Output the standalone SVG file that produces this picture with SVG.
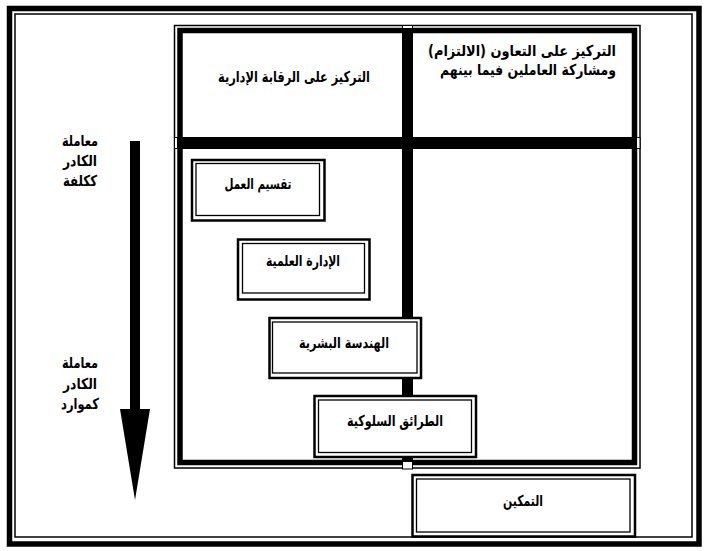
<svg xmlns="http://www.w3.org/2000/svg" width="709" height="551" viewBox="0 0 709 551">
<style>
.t{font-family:"DejaVu Sans","Liberation Sans",sans-serif;font-weight:bold;font-size:15px;fill:#000;text-anchor:middle;direction:rtl}
.thin{fill:none;stroke:#000;stroke-width:1.5}
.thick{fill:none;stroke:#000;stroke-width:5.5}
.bo{fill:#fff;stroke:#000;stroke-width:2.5}
.bi{fill:none;stroke:#000;stroke-width:1.3}
</style>
<rect width="709" height="551" fill="#fff"/>
<g id="outer-frame">
<rect class="thick" x="9.5" y="8.5" width="689.5" height="535.5"/>
<rect class="thin" x="15" y="14" width="677" height="523"/>
</g>
<g id="matrix-frame">
<rect class="thin" x="174.5" y="25.5" width="465.5" height="442.5"/>
<rect class="thick" x="180" y="30.5" width="454.5" height="432"/>
</g>
<g id="dividers">
<rect x="402.5" y="25.5" width="10" height="443.5" fill="#fff" stroke="#000" stroke-width="1"/>
<rect x="403" y="28" width="9" height="434" fill="#000"/>
<rect x="174.5" y="137.5" width="465.5" height="11" fill="#fff" stroke="#000" stroke-width="1"/>
<rect x="177" y="138" width="460" height="10" fill="#000"/>
</g>
<g id="arrow">
<rect x="130" y="141" width="10" height="269" fill="#000"/>
<polygon points="120,409 150,409 135,500" fill="#000"/>
</g>
<g id="label-cost">
<text class="t" x="80" y="146" textLength="36" lengthAdjust="spacingAndGlyphs">معاملة</text>
<text class="t" x="80" y="166" textLength="34" lengthAdjust="spacingAndGlyphs">الكادر</text>
<text class="t" x="80" y="186" textLength="34" lengthAdjust="spacingAndGlyphs">ككلفة</text>
</g>
<g id="label-resource">
<text class="t" x="80" y="368" textLength="36" lengthAdjust="spacingAndGlyphs">معاملة</text>
<text class="t" x="80" y="389" textLength="34" lengthAdjust="spacingAndGlyphs">الكادر</text>
<text class="t" x="80" y="409" textLength="38" lengthAdjust="spacingAndGlyphs">كموارد</text>
</g>
<g id="header-control">
<text class="t" x="294" y="82" textLength="152" lengthAdjust="spacingAndGlyphs">التركيز على الرقابة الإدارية</text>
</g>
<g id="header-commitment">
<text class="t" x="522" y="56" font-size="16" textLength="188" lengthAdjust="spacingAndGlyphs">التركيز على التعاون (الالتزام)</text>
<text class="t" x="528" y="75" font-size="16" textLength="176" lengthAdjust="spacingAndGlyphs">ومشاركة العاملين فيما بينهم</text>
</g>
<g id="box-division">
<rect class="bo" x="192" y="160" width="132.5" height="60.5"/>
<rect class="bi" x="196" y="163.5" width="123.5" height="52"/>
<text class="t" x="258" y="189" textLength="67" lengthAdjust="spacingAndGlyphs">تقسيم العمل</text>
</g>
<g id="box-scientific">
<rect class="bo" x="238" y="239.5" width="131.5" height="60"/>
<rect class="bi" x="242.5" y="243.5" width="122" height="49.5"/>
<text class="t" x="303" y="266" textLength="74" lengthAdjust="spacingAndGlyphs">الإدارة العلمية</text>
</g>
<g id="box-human">
<rect class="bo" x="269.5" y="318" width="151.5" height="60"/>
<rect class="bi" x="272.5" y="322" width="144.5" height="51"/>
<text class="t" x="344" y="348" textLength="90" lengthAdjust="spacingAndGlyphs">الهندسة البشرية</text>
</g>
<g id="box-behavioral">
<rect class="bo" x="314.5" y="396" width="161.5" height="61"/>
<rect class="bi" x="318.5" y="400" width="153" height="52.5"/>
<text class="t" x="395" y="426" textLength="96" lengthAdjust="spacingAndGlyphs">الطرائق السلوكية</text>
</g>
<g id="box-empowerment">
<rect class="bo" x="412.5" y="475" width="222.5" height="61.5"/>
<rect class="bi" x="416.5" y="479" width="213.5" height="53"/>
<text class="t" x="523" y="506" textLength="40" lengthAdjust="spacingAndGlyphs">التمكين</text>
</g>
</svg>
